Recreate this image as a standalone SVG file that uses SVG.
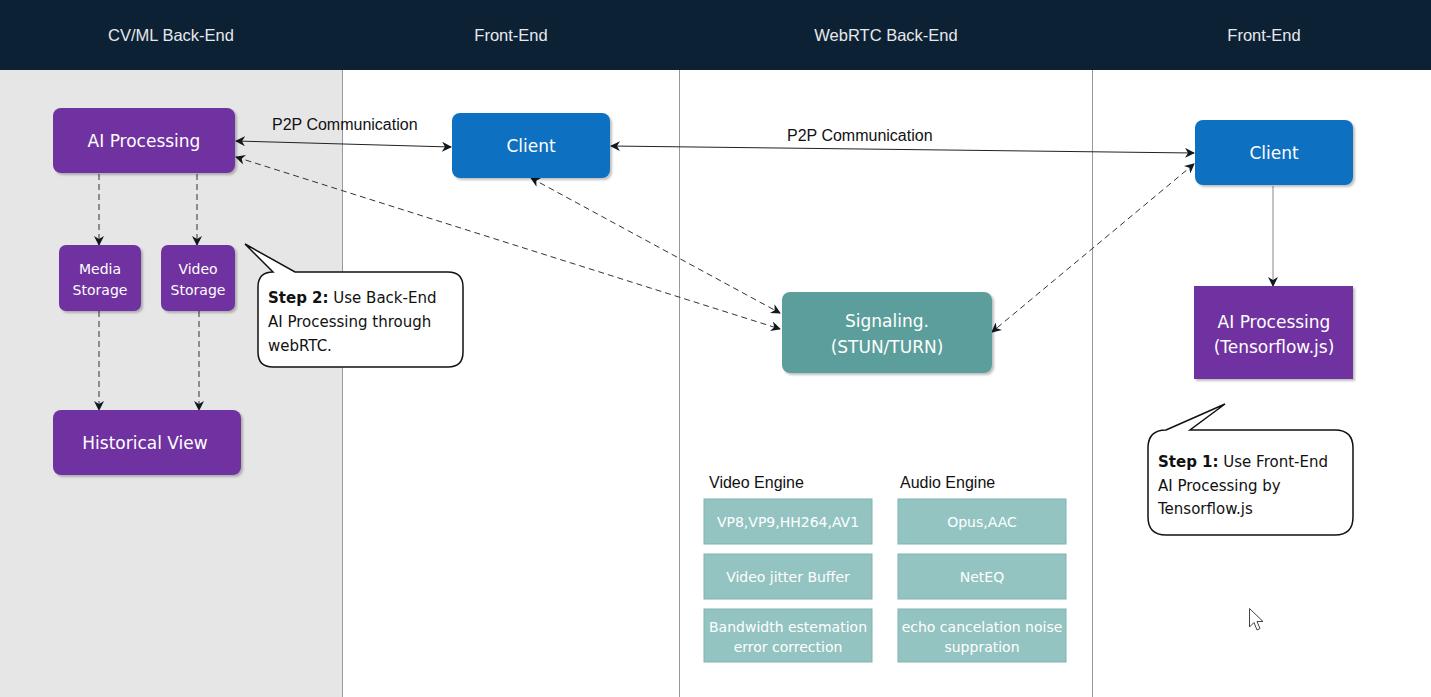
<svg xmlns="http://www.w3.org/2000/svg" width="1431" height="697" viewBox="0 0 1431 697">
<defs>
<marker id="arr" viewBox="0 0 10 10" refX="9" refY="5" markerWidth="10" markerHeight="10" markerUnits="userSpaceOnUse" orient="auto-start-reverse"><path d="M0,0 L10,5 L0,10 L3,5 Z" fill="#101820"/></marker>
<filter id="sh" x="-10%" y="-10%" width="130%" height="130%"><feDropShadow dx="2" dy="2" stdDeviation="1" flood-color="#000" flood-opacity="0.25"/></filter>
<style>
.hd{font-family:"Liberation Sans",Arial,sans-serif;font-size:16.5px;fill:#e6e9ec;text-anchor:middle}
.lbl{font-family:"Liberation Sans",Arial,sans-serif;font-size:16px;fill:#111}
.nt{font-family:"Comic Sans MS","DejaVu Sans",sans-serif;fill:#fff;text-anchor:middle}
.purple{fill:#7030a0}
.blue{fill:#0b6fc0}
.teal{fill:#5b9e9b}
.eng{fill:#94c4c1;stroke:#7fb3b0;stroke-width:1}
.et{font-family:"Comic Sans MS","DejaVu Sans",sans-serif;font-size:14px;fill:#fff;text-anchor:middle}
.call{fill:#fff;stroke:#111;stroke-width:1.5}
.ct{font-family:"Comic Sans MS","DejaVu Sans",sans-serif;font-size:15px;fill:#111}
.solid{fill:none;stroke:#222;stroke-width:1}
.dash{fill:none;stroke:#333;stroke-width:1;stroke-dasharray:6,4}
.lane{stroke:#999;stroke-width:1}
</style>
</defs>
<rect x="0" y="0" width="1431" height="697" fill="#fff"/>
<rect x="0" y="70" width="342" height="627" fill="#e6e6e6"/>
<rect x="0" y="0" width="1431" height="70" fill="#0d2135"/>
<g id="headers">
<text class="hd" x="171" y="41">CV/ML Back-End</text>
<text class="hd" x="511" y="41">Front-End</text>
<text class="hd" x="886" y="41">WebRTC Back-End</text>
<text class="hd" x="1264" y="41">Front-End</text>
</g>
<g id="lanes">
<line class="lane" x1="342.5" y1="70" x2="342.5" y2="697"/>
<line class="lane" x1="679.5" y1="70" x2="679.5" y2="697"/>
<line class="lane" x1="1092.5" y1="70" x2="1092.5" y2="697"/>
</g>
<g id="connectors">
<path class="solid" d="M236,141 L451,147" marker-start="url(#arr)" marker-end="url(#arr)"/>
<path class="solid" d="M611,146 L1194,153" marker-start="url(#arr)" marker-end="url(#arr)"/>
<path class="dash" d="M236,157 L780,329" marker-start="url(#arr)" marker-end="url(#arr)"/>
<path class="dash" d="M531,178 L780,313" marker-start="url(#arr)" marker-end="url(#arr)"/>
<path class="dash" d="M1194,164 L992,332" marker-start="url(#arr)" marker-end="url(#arr)"/>
<path fill="none" stroke="#888" stroke-width="1" d="M1273,186 L1273,286" marker-end="url(#arr)"/>
<path class="dash" d="M99,174 L99,245" marker-end="url(#arr)"/>
<path class="dash" d="M197,174 L197,245" marker-end="url(#arr)"/>
<path class="dash" d="M99,311 L99,410" marker-end="url(#arr)"/>
<path class="dash" d="M199,311 L199,410" marker-end="url(#arr)"/>
<text class="lbl" x="272" y="130">P2P Communication</text>
<text class="lbl" x="787" y="141">P2P Communication</text>
</g>
<g id="ai-backend">
<rect class="purple" x="53" y="108" width="182" height="65" rx="8" filter="url(#sh)"/>
<text class="nt" x="144" y="147" font-size="17">AI Processing</text>
</g>
<g id="media-storage">
<rect class="purple" x="59" y="245" width="82" height="66" rx="7" filter="url(#sh)"/>
<text class="nt" x="100" y="274" font-size="14">Media</text>
<text class="nt" x="100" y="295" font-size="14">Storage</text>
</g>
<g id="video-storage">
<rect class="purple" x="161" y="245" width="74" height="66" rx="7" filter="url(#sh)"/>
<text class="nt" x="198" y="274" font-size="14">Video</text>
<text class="nt" x="198" y="295" font-size="14">Storage</text>
</g>
<g id="historical-view">
<rect class="purple" x="53" y="410" width="188" height="65" rx="8" filter="url(#sh)"/>
<text class="nt" x="145" y="449" font-size="17">Historical View</text>
</g>
<g id="step2">
<path class="call" d="M273,272 L245,244 L295,272 L448,272 Q463,272 463,287 L463,352 Q463,367 448,367 L273,367 Q258,367 258,352 L258,287 Q258,272 273,272 Z"/>
<text class="ct" x="268" y="303"><tspan font-weight="bold">Step 2:</tspan> Use Back-End</text>
<text class="ct" x="268" y="327">AI Processing through</text>
<text class="ct" x="268" y="351">webRTC.</text>
</g>
<g id="client-1">
<rect class="blue" x="452" y="113" width="158" height="65" rx="8" filter="url(#sh)"/>
<text class="nt" x="531" y="152" font-size="17">Client</text>
</g>
<g id="signaling">
<rect class="teal" x="782" y="292" width="210" height="81" rx="8" filter="url(#sh)"/>
<text class="nt" x="887" y="327" font-size="17">Signaling.</text>
<text class="nt" x="887" y="353" font-size="17">(STUN/TURN)</text>
</g>
<g id="client-2">
<rect class="blue" x="1195" y="120" width="158" height="65" rx="8" filter="url(#sh)"/>
<text class="nt" x="1274" y="159" font-size="17">Client</text>
</g>
<g id="ai-frontend">
<rect class="purple" x="1194" y="286" width="159" height="93" filter="url(#sh)"/>
<text class="nt" x="1274" y="328" font-size="17">AI Processing</text>
<text class="nt" x="1274" y="353" font-size="17">(Tensorflow.js)</text>
</g>
<g id="step1">
<path class="call" d="M1166,430 L1225,404 L1190,430 L1335,430 Q1353,430 1353,448 L1353,517 Q1353,535 1335,535 L1166,535 Q1148,535 1148,517 L1148,448 Q1148,430 1166,430 Z"/>
<text class="ct" x="1158" y="467"><tspan font-weight="bold">Step 1:</tspan> Use Front-End</text>
<text class="ct" x="1158" y="491">AI Processing by</text>
<text class="ct" x="1158" y="514">Tensorflow.js</text>
</g>
<g id="video-engine">
<text class="lbl" x="709" y="488">Video Engine</text>
<rect class="eng" x="704" y="499" width="168" height="45"/>
<text class="et" x="788" y="527">VP8,VP9,HH264,AV1</text>
<rect class="eng" x="704" y="554" width="168" height="45"/>
<text class="et" x="788" y="582">Video jitter Buffer</text>
<rect class="eng" x="704" y="609" width="168" height="53"/>
<text class="et" x="788" y="632">Bandwidth estemation</text>
<text class="et" x="788" y="652">error correction</text>
</g>
<g id="audio-engine">
<text class="lbl" x="900" y="488">Audio Engine</text>
<rect class="eng" x="898" y="499" width="168" height="45"/>
<text class="et" x="982" y="527">Opus,AAC</text>
<rect class="eng" x="898" y="554" width="168" height="45"/>
<text class="et" x="982" y="582">NetEQ</text>
<rect class="eng" x="898" y="609" width="168" height="53"/>
<text class="et" x="982" y="632">echo cancelation noise</text>
<text class="et" x="982" y="652">suppration</text>
</g>
<path d="M1249.5,608.5 L1249.5,627 L1254,622.5 L1257,630 L1260,628.5 L1257,621.5 L1263,621.5 Z" fill="#fff" stroke="#444" stroke-width="1"/>
</svg>
